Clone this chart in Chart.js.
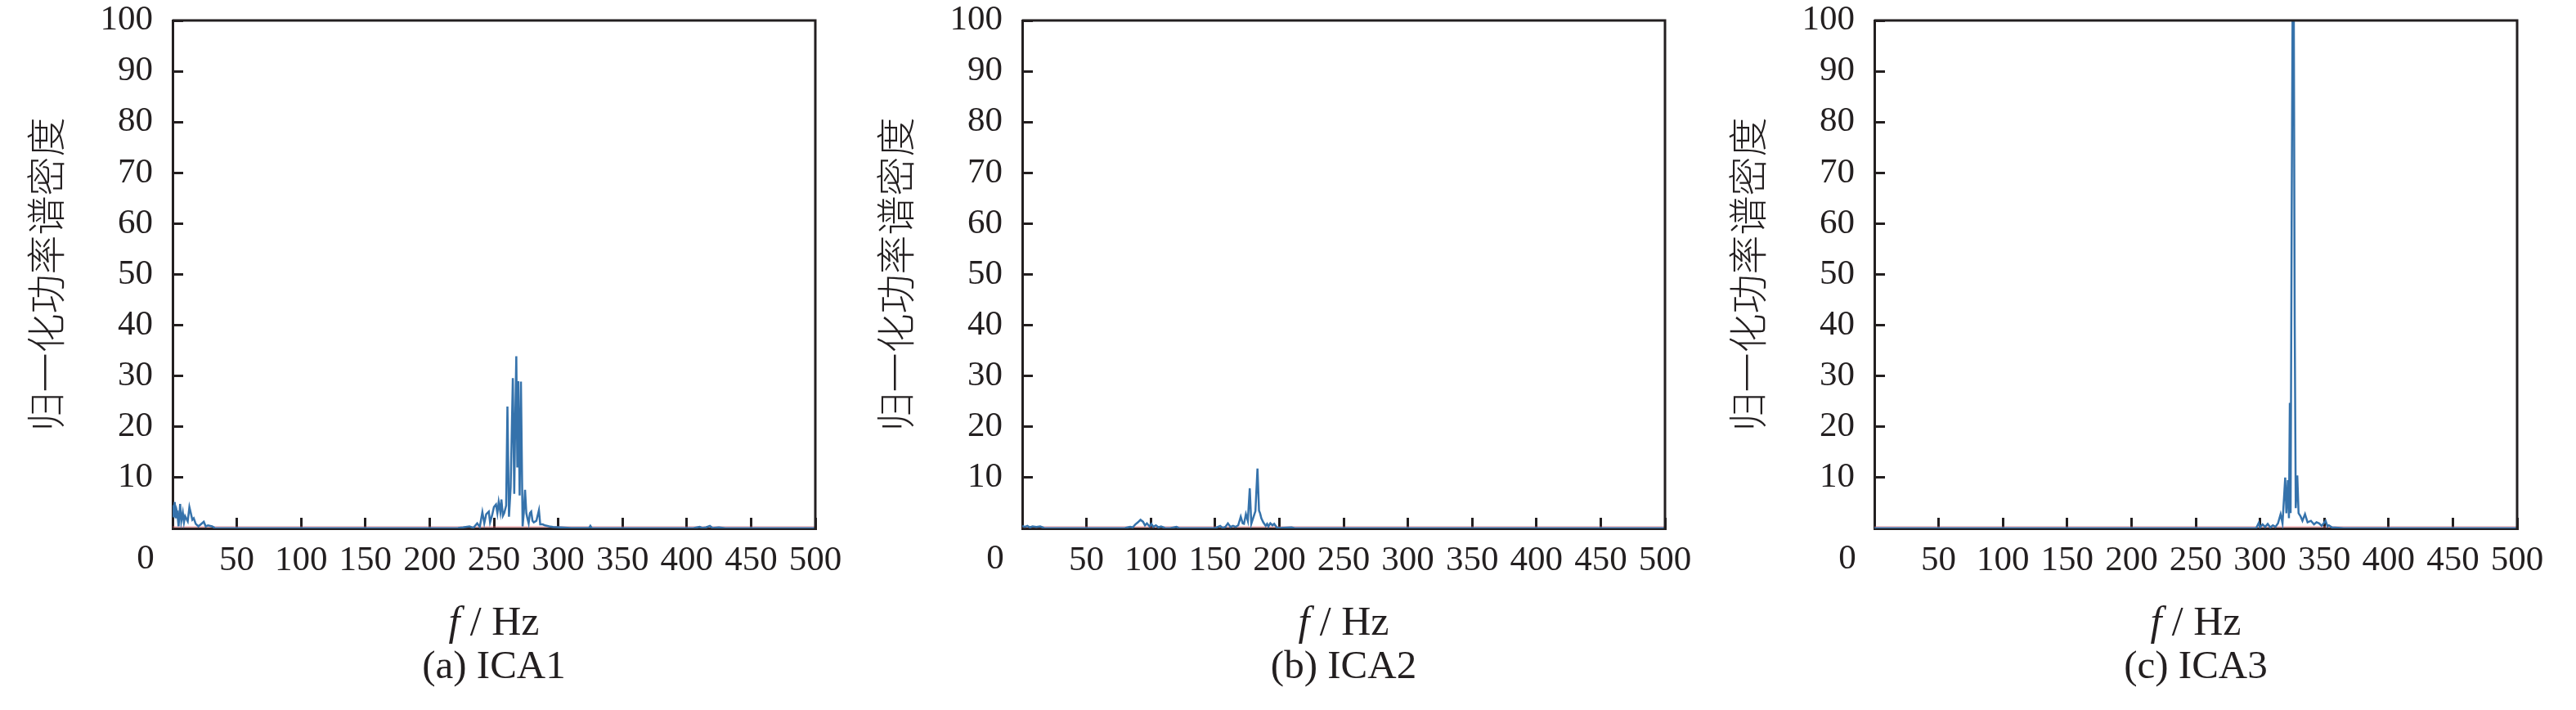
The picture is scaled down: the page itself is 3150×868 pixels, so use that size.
<!doctype html>
<html lang="zh">
<head>
<meta charset="utf-8">
<title>ICA 归一化功率谱密度</title>
<script src="https://cdn.jsdelivr.net/npm/chart.js"></script>
<style>
  body { margin: 0; background: #fff; width: 3150px; height: 868px; overflow: hidden; position: relative; }
  .panel { position: absolute; top: 0; width: 1050px; height: 868px; }
</style>
</head>
<body>
<div class="panel" style="left:0px"><canvas id="ica1"></canvas></div>
<div class="panel" style="left:1039px"><canvas id="ica2"></canvas></div>
<div class="panel" style="left:2081px"><canvas id="ica3"></canvas></div>

<script>
// axis ticks
const xTicks = [0, 50, 100, 150, 200, 250, 300, 350, 400, 450, 500];
const yTicks = [10, 20, 30, 40, 50, 60, 70, 80, 90, 100];

const captions = ['(a) ICA1', '(b) ICA2', '(c) ICA3'];

// ICA1 spectrum (Hz, normalised PSD)
const ica1Freq = [0, 0.8, 1.7, 2.5, 3.2, 3.8, 4.7, 5.9, 6.8, 8.0, 8.9, 9.8, 10.6, 11.8, 13.1, 14.4, 15.4, 16.5, 18, 20.1, 22, 24.3, 25.8, 27.5, 30.7, 32.8, 40, 100, 200,
  222, 226, 231, 234, 237, 239, 241, 242.5, 244, 246, 247, 248.5, 250, 251.6, 252.7, 253.7, 255, 255.8, 257, 258, 259.5, 260.5, 261.7, 263,
  264.7, 265.8, 266.6, 267.4, 268.2, 268.9, 270, 271, 272.3, 273.2, 274.2, 275.2, 276, 277, 278, 279, 280, 281, 283, 285, 286, 288, 289.6,
  293, 296, 302, 310, 324, 325, 326, 340, 405, 408, 410, 412, 415, 418, 420, 425, 430, 500];
const ica1Psd = [4.6, 2.2, 5.2, 2.0, 3.5, 2.8, 0.4, 4.8, 1.4, 3.1, 1.2, 2.4, 2.0, 1.4, 4.2, 2.8, 1.7, 2.0, 0.9, 0.4, 0.8, 1.3, 0.4, 0.6, 0.4, 0.1, 0.05, 0.05, 0.05,
  0.1, 0.2, 0.4, 0.1, 1.0, 0.3, 3.2, 1.0, 2.8, 3.3, 1.2, 2.5, 4.2, 4.7, 3.0, 5.2, 3.2, 5.7, 2.5, 3.0, 4.5, 24, 2.3, 8,
  29.6, 6.8, 22, 33.9, 12, 29, 6.5, 28.9, 0.4, 3, 7.6, 3, 2, 1, 3, 3.3, 1.5, 1.2, 1.5, 3.6, 0.8, 0.8, 0.6,
  0.4, 0.3, 0.2, 0.1, 0.1, 0.5, 0.1, 0.05, 0.05, 0.2, 0.3, 0.1, 0.2, 0.5, 0.1, 0.2, 0.05, 0.05];

// ICA2 spectrum
const ica2Freq = [0, 2, 4, 6, 8, 11, 14, 17, 20, 70, 80, 84, 86, 88, 90, 92, 94, 95.5, 97, 99, 100.5, 102, 104, 106, 108, 111, 115, 120, 122,
  150, 154, 156, 158, 160, 162, 164, 166, 168, 170, 171.5, 172.5, 174, 175.5, 177, 178.2, 180, 181.4, 183, 184.2, 185, 186, 187.5,
  189.4, 190.5, 191.5, 193, 194.7, 196, 198, 200, 209.5, 212, 500];
const ica2Psd = [0.5, 0.3, 0.5, 0.2, 0.4, 0.3, 0.4, 0.1, 0.05, 0.05, 0.1, 0.3, 0.2, 0.8, 1.2, 1.7, 1.3, 0.6, 1.0, 0.4, 0.9, 0.3, 0.6, 0.2, 0.4, 0.1, 0.05, 0.3, 0.05,
  0.05, 0.5, 0.1, 0.3, 1.0, 0.3, 0.5, 0.3, 0.6, 2.3, 1.0, 0.9, 2.8, 1.5, 7.9, 0.9, 2.3, 3.4, 11.8, 3.5, 3.0, 2.0, 1.2,
  0.5, 0.9, 0.4, 1.0, 0.6, 0.9, 0.2, 0.1, 0.2, 0.05, 0.05];

// ICA3 spectrum
const ica3Freq = [0, 297, 299, 300, 302, 304, 306, 308, 310, 312, 314, 316, 317.5, 319.6, 320.5, 321.7, 322.5, 323.2, 323.8, 324.6, 325.3, 326.3,
  327, 327.8, 329, 330, 331.5, 333, 335, 337, 339.6, 342, 344, 346, 348, 351, 352.5, 353.6, 356, 363, 365, 500];
const ica3Psd = [0.05, 0.05, 1.1, 0.2, 0.8, 0.3, 0.9, 0.2, 0.6, 0.3, 1.0, 2.8, 1.0, 10, 3, 9.5, 2, 24.7, 3, 60, 100, 100,
  40, 4, 10.4, 3, 2.4, 1.5, 2.8, 1.2, 1.5, 0.8, 1.2, 1.0, 0.5, 1.5, 0.4, 0.6, 0.2, 0.1, 0.05, 0.05];

// faint red reference line lying on the x axis
const zeroFreq = [0, 500];
const zeroPsd = [0.3, 0.3];

const INK = '#231f20';
const SERIF = '"Liberation Serif", "Times New Roman", serif';

const frameAndLabels = {
  id: 'frameAndLabels',
  afterDraw(chart) {
    const { ctx, chartArea: a } = chart;
    const cx = (a.left + a.right) / 2;
    ctx.save();
    // top + right frame
    ctx.strokeStyle = INK;
    ctx.lineWidth = 3;
    ctx.beginPath();
    ctx.moveTo(a.left, a.top);
    ctx.lineTo(a.right, a.top);
    ctx.lineTo(a.right, a.bottom);
    ctx.stroke();
    // shared origin label
    ctx.fillStyle = INK;
    ctx.textBaseline = 'middle';
    ctx.textAlign = 'center';
    ctx.font = '43px ' + SERIF;
    ctx.fillText('0', a.left - 33, 684);
    // x title with italic f
    const fItal = 'italic 50px ' + SERIF, fReg = '50px ' + SERIF;
    ctx.font = fItal;
    const w1 = ctx.measureText('f').width;
    ctx.font = fReg;
    const w2 = ctx.measureText(' / Hz').width;
    const x0 = cx - (w1 + w2) / 2;
    ctx.textAlign = 'left';
    ctx.font = fItal;
    ctx.fillText('f', x0, 763);
    ctx.font = fReg;
    ctx.fillText(' / Hz', x0 + w1, 763);
    // panel caption
    ctx.textAlign = 'center';
    ctx.font = '49px ' + SERIF;
    ctx.fillText(chart.options.plugins.frameAndLabels.caption, cx, 816);
    ctx.restore();
  }
};

function makeChart(id, freq, psd, caption) {
  const pts = freq.map((f, i) => ({ x: f, y: psd[i] }));
  const zero = zeroFreq.map((f, i) => ({ x: f, y: zeroPsd[i] }));
  return new Chart(document.getElementById(id), {
    type: 'line',
    data: {
      datasets: [{
        data: zero,
        borderColor: 'rgba(214,90,100,0.45)',
        borderWidth: 2,
        pointRadius: 0,
        order: 2
      }, {
        data: pts,
        borderColor: '#3572ab',
        borderWidth: 2.5,
        pointRadius: 0,
        tension: 0,
        order: 1
      }]
    },
    options: {
      responsive: true,
      maintainAspectRatio: false,
      animation: false,
      layout: { padding: { top: 25, right: 53, left: 0, bottom: 0 } },
      plugins: {
        legend: { display: false },
        tooltip: { enabled: false },
        frameAndLabels: { caption: caption }
      },
      scales: {
        x: {
          type: 'linear',
          min: 0,
          max: 500,
          afterBuildTicks: s => { s.ticks = xTicks.map(v => ({ value: v })); },
          afterFit: s => { s.height = 222; s.paddingLeft = 0; s.paddingRight = 0; },
          border: { display: true, color: INK, width: 3 },
          grid: { drawOnChartArea: false, drawTicks: true, tickLength: -13, tickWidth: 3, tickColor: INK },
          ticks: {
            color: INK,
            padding: 31,
            maxRotation: 0,
            autoSkip: false,
            font: { family: SERIF, size: 43, lineHeight: 1 },
            callback: v => (v === 0 ? '' : v)
          }
        },
        y: {
          min: 0,
          max: 100,
          afterBuildTicks: s => { s.ticks = yTicks.map(v => ({ value: v })); },
          afterFit: s => { s.width = 211; s.paddingTop = 0; s.paddingBottom = 0; },
          border: { display: true, color: INK, width: 3 },
          grid: { drawOnChartArea: false, drawTicks: true, tickLength: -13, tickWidth: 3, tickColor: INK },
          ticks: {
            color: INK,
            padding: 37,
            font: { family: SERIF, size: 43, lineHeight: 1 }
          },
          title: {
            display: true,
            text: '归一化功率谱密度',
            color: INK,
            font: { family: '"Noto Sans CJK SC", sans-serif', size: 48, weight: 300, lineHeight: 1.2 },
            padding: { top: 27, bottom: 0 }
          }
        }
      }
    },
    plugins: [frameAndLabels]
  });
}

makeChart('ica1', ica1Freq, ica1Psd, captions[0]);
makeChart('ica2', ica2Freq, ica2Psd, captions[1]);
makeChart('ica3', ica3Freq, ica3Psd, captions[2]);
</script>
</body>
</html>
